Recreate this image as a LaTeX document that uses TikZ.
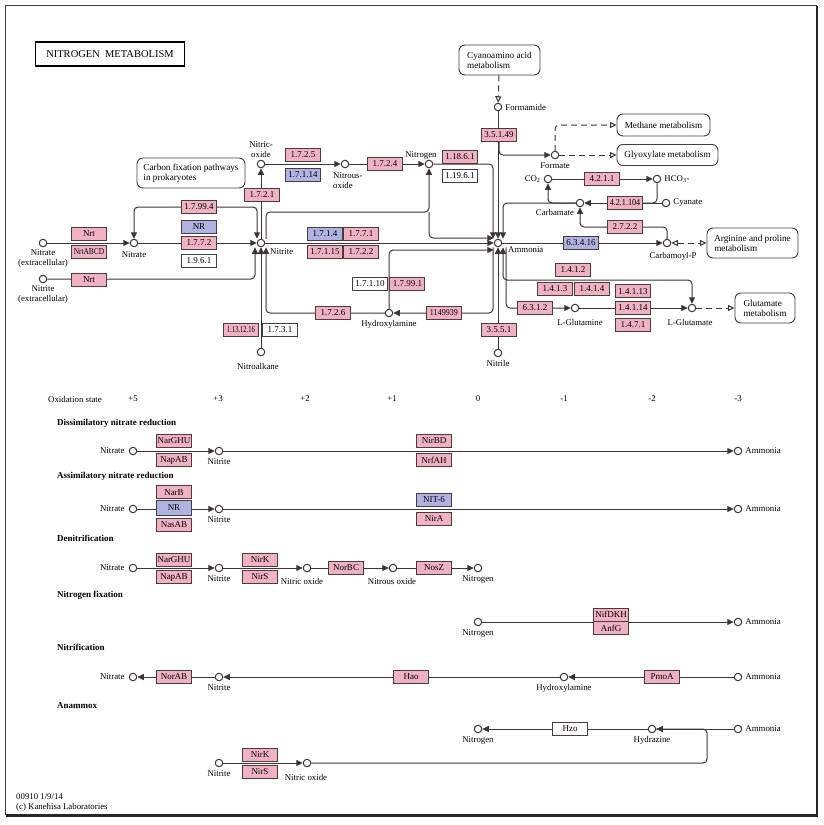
\documentclass[tikz,border=0pt]{standalone}
\usepackage{fontspec}
\setmainfont{Liberation Serif}
\usetikzlibrary{positioning, arrows.meta, backgrounds}

\definecolor{ecpink}{RGB}{240,178,193}
\definecolor{ecblue}{RGB}{176,178,226}
\definecolor{linegray}{RGB}{62,52,52}
\definecolor{boxgray}{RGB}{75,60,60}

\tikzstyle{ec} = [rectangle, draw=boxgray, line width=0.9pt, fill=ecpink, minimum width=35pt, minimum height=13pt, inner sep=0pt, text centered, font=\fontsize{9}{9}\selectfont]
\tikzstyle{ecb} = [ec, fill=ecblue]
\tikzstyle{ecw} = [ec, fill=white]
\tikzstyle{cpd} = [circle, draw=linegray, line width=1pt, fill=white, minimum size=7.5pt, inner sep=0pt]
\tikzstyle{txt} = [inner sep=0pt, align=center, font=\fontsize{8.8}{10}\selectfont]
\tikzstyle{mapbox} = [rectangle, rounded corners=6pt, draw=boxgray, line width=0.9pt, fill=white, align=left, font=\fontsize{9.2}{10}\selectfont]
\tikzstyle{sect} = [anchor=west, inner sep=0pt, font=\fontsize{9}{10}\selectfont\bfseries]
\tikzstyle{arrow} = [draw=linegray, line width=1pt, rounded corners=4pt, -{Triangle[length=6.5pt,width=6pt]}]
\tikzstyle{twoway} = [draw=linegray, line width=1pt, rounded corners=4pt, {Triangle[length=6.5pt,width=6pt]}-{Triangle[length=6.5pt,width=6pt]}]
\tikzstyle{joinline} = [draw=linegray, line width=1pt, rounded corners=4pt]
\tikzstyle{maplink} = [draw=linegray, line width=1pt, rounded corners=4pt, dash pattern=on 6pt off 4pt, -{Triangle[open,length=6.5pt,width=6pt]}]
\tikzstyle{maplink2} = [draw=linegray, line width=1pt, dash pattern=on 6pt off 4pt, {Triangle[open,length=6.5pt,width=6pt]}-{Triangle[open,length=6.5pt,width=6pt]}]

\begin{document}
\begin{tikzpicture}[x=1pt, y=-1pt]
\useasboundingbox (0,0) rectangle (823,825);

% Title and linked pathway maps
\node (title) [draw=black, line width=1.6pt, minimum width=149pt, minimum height=24pt, inner sep=0pt, font=\fontsize{10.5}{12}\selectfont] at (110,54) {NITROGEN\ \ METABOLISM};
\node (carbonMap) [mapbox, minimum width=108pt, minimum height=30pt] at (191,173) {Carbon fixation pathways\\in prokaryotes};
\node (cyanoMap) [mapbox, minimum width=81pt, minimum height=30pt] at (499.5,60) {Cyanoamino acid\\metabolism};
\node (methaneMap) [mapbox, minimum width=93pt, minimum height=22pt] at (663.5,125) {Methane metabolism};
\node (glyoxMap) [mapbox, minimum width=101pt, minimum height=21pt] at (667.5,155) {Glyoxylate metabolism};
\node (arginineMap) [mapbox, minimum width=91pt, minimum height=30pt] at (752.5,243) {Arginine and proline\\metabolism};
\node (glutamateMap) [mapbox, minimum width=60pt, minimum height=30pt] at (765,308) {Glutamate\\metabolism};

% Upper map - compounds
\node (nitrateExt) [cpd] at (43,243) {};
\node (nitriteExt) [cpd] at (43,279) {};
\node (nitrate) [cpd] at (134,243) {};
\node (nitrite) [cpd] at (261,243) {};
\node (nitricOxide) [cpd] at (261,164) {};
\node (nitrousOxide) [cpd] at (345,164) {};
\node (nitrogen) [cpd] at (429,164) {};
\node (ammonia) [cpd] at (498,243) {};
\node (formamide) [cpd] at (498,107) {};
\node (formate) [cpd] at (555,155) {};
\node (co2) [cpd] at (548,179) {};
\node (hco3) [cpd] at (657,179) {};
\node (carbamate) [cpd] at (580,203) {};
\node (cyanate) [cpd] at (666,203) {};
\node (carbamoylP) [cpd] at (667,243) {};
\node (glutamine) [cpd] at (575,308) {};
\node (glutamate) [cpd] at (692,308) {};
\node (hydroxylamine) [cpd] at (389,313) {};
\node (nitroalkane) [cpd] at (261,352) {};
\node (nitrile) [cpd] at (498,353) {};
\coordinate (jn2) at (429,212);
\coordinate (j1412) at (573,280);

% Upper map - compound names
\node (lNitrateExt) [txt, below=2pt of nitrateExt] {Nitrate\\(extracellular)};
\node (lNitriteExt) [txt, below=2pt of nitriteExt] {Nitrite\\(extracellular)};
\node (lNitrate) [txt, below=4pt of nitrate] {Nitrate};
\node (lNitrite) [txt, anchor=west] at (270,252) {Nitrite};
\node (lNitricOxide) [txt, above=2pt of nitricOxide] {Nitric-\\oxide};
\node (lNitrousOxide) [txt, align=left, anchor=north west] at (333,172) {Nitrous-\\oxide};
\node (lNitrogen) [txt] at (421,156) {Nitrogen};
\node (lAmmonia) [txt, anchor=west] at (508,250) {Ammonia};
\node (lFormamide) [txt, right=3pt of formamide] {Formamide};
\node (lFormate) [txt, below=3pt of formate] {Formate};
\node (lCO2) [txt, left=3pt of co2] {CO\textsubscript{2}};
\node (lHCO3) [txt, right=3pt of hco3] {HCO\textsubscript{3}-};
\node (lCarbamate) [txt] at (555,212) {Carbamate};
\node (lCyanate) [txt, right=3pt of cyanate] {Cyanate};
\node (lCarbamoylP) [txt] at (673,256) {Carbamoyl-P};
\node (lGlutamine) [txt] at (580,322) {L-Glutamine};
\node (lGlutamate) [txt] at (690,322) {L-Glutamate};
\node (lHydroxylamine) [txt, below=3pt of hydroxylamine] {Hydroxylamine};
\node (lNitroalkane) [txt] at (258,366) {Nitroalkane};
\node (lNitrile) [txt, below=3pt of nitrile] {Nitrile};

% Upper map - enzymes
\node (nrt1) [ec] at (89,234) {Nrt};
\node (nrtABCD) [ec, below=4pt of nrt1] {\scalebox{0.82}[1]{NrtABCD}};
\node (nrt2) [ec] at (89,280) {Nrt};
\node (e17994) [ec] at (199,207) {1.7.99.4};
\node (nr) [ecb] at (199,227) {NR};
\node (e1772) [ec, below=2pt of nr] {1.7.7.2};
\node (e1961) [ecw] at (199,261) {1.9.6.1};
\node (e1721) [ec] at (262,195) {1.7.2.1};
\node (e1725) [ec] at (303,155) {1.7.2.5};
\node (e17114) [ecb, below=6pt of e1725] {1.7.1.14};
\node (e1724) [ec] at (385,164) {1.7.2.4};
\node (e11861) [ec] at (460,157) {1.18.6.1};
\node (e11961) [ecw, below=5pt of e11861] {1.19.6.1};
\node (e35149) [ec] at (499,135) {3.5.1.49};
\node (e4211) [ec] at (602,179) {4.2.1.1};
\node (e421104) [ec] at (625,203) {\scalebox{0.9}[1]{4.2.1.104}};
\node (e2722) [ec] at (625,227) {2.7.2.2};
\node (e63416) [ecb] at (581,243) {6.3.4.16};
\node (e1714) [ecb] at (325,234) {1.7.1.4};
\node (e1771) [ec, right=0pt of e1714] {1.7.7.1};
\node (e17115) [ec] at (325,252) {1.7.1.15};
\node (e1722) [ec, right=0pt of e17115] {1.7.2.2};
\node (e17110) [ecw] at (370,284) {1.7.1.10};
\node (e17991) [ec, right=1.5pt of e17110] {1.7.99.1};
\node (e1726) [ec] at (333,313) {1.7.2.6};
\node (e1149939) [ec] at (444,313) {\scalebox{0.9}[1]{1149939}};
\node (e3551) [ec] at (499,330) {3.5.5.1};
\node (e1131216) [ec] at (241,330) {\scalebox{0.72}[1]{1.13.12.16}};
\node (e1731) [ecw] at (280,330) {1.7.3.1};
\node (e1412) [ec] at (573,270) {1.4.1.2};
\node (e1413) [ec] at (555,289) {1.4.1.3};
\node (e1414) [ec, right=1pt of e1413] {1.4.1.4};
\node (e6312) [ec] at (535,308) {6.3.1.2};
\node (e14114) [ec] at (633,308) {1.4.1.14};
\node (e14113) [ec, above=3pt of e14114] {1.4.1.13};
\node (e1471) [ec, below=3pt of e14114] {1.4.7.1};

% Lower panel - oxidation state scale
\node (oxState) [txt] at (75,399) {Oxidation state};
\node (ox5) [txt] at (133,399) {+5};
\node (ox3) [txt] at (218,399) {+3};
\node (ox2) [txt] at (305,399) {+2};
\node (ox1) [txt] at (392,399) {+1};
\node (ox0) [txt] at (478,399) {0};
\node (oxm1) [txt] at (564,399) {-1};
\node (oxm2) [txt] at (652,399) {-2};
\node (oxm3) [txt] at (738,399) {-3};

% Lower panel - module titles
\node (sDissim) [sect] at (57,423) {Dissimilatory nitrate reduction};
\node (sAssim) [sect] at (57,476) {Assimilatory nitrate reduction};
\node (sDenit) [sect] at (57,538) {Denitrification};
\node (sFix) [sect] at (57,595) {Nitrogen fixation};
\node (sNitrif) [sect] at (57,647) {Nitrification};
\node (sAnammox) [sect] at (57,706) {Anammox};

% Row 1 - Dissimilatory nitrate reduction
\node (d1Nitrate) [cpd] at (133,451) {};
\node (d1Nitrite) [cpd] at (219,451) {};
\node (d1Ammonia) [cpd] at (738,451) {};
\node (d1lNitrate) [txt, left=4pt of d1Nitrate] {Nitrate};
\node (d1lNitrite) [txt, below=3pt of d1Nitrite] {Nitrite};
\node (d1lAmmonia) [txt, right=3pt of d1Ammonia] {Ammonia};
\node (d1NarGHU) [ec] at (174,441) {NarGHU};
\node (d1NapAB) [ec] at (174,460) {NapAB};
\node (d1NirBD) [ec] at (434,441) {NirBD};
\node (d1NrfAH) [ec] at (434,460) {NrfAH};

% Row 2 - Assimilatory nitrate reduction
\node (a2Nitrate) [cpd] at (133,509) {};
\node (a2Nitrite) [cpd] at (219,509) {};
\node (a2Ammonia) [cpd] at (738,509) {};
\node (a2lNitrate) [txt, left=4pt of a2Nitrate] {Nitrate};
\node (a2lNitrite) [txt, below=3pt of a2Nitrite] {Nitrite};
\node (a2lAmmonia) [txt, right=3pt of a2Ammonia] {Ammonia};
\node (a2NR) [ecb, minimum height=15pt] at (174,508) {NR};
\node (a2NarB) [ec, above=1pt of a2NR] {NarB};
\node (a2NasAB) [ec, below=2pt of a2NR] {NasAB};
\node (a2NIT6) [ecb] at (434,499.5) {NIT-6};
\node (a2NirA) [ec] at (434,519) {NirA};

% Row 3 - Denitrification
\node (n3Nitrate) [cpd] at (133,568) {};
\node (n3Nitrite) [cpd] at (219,568) {};
\node (n3NO) [cpd] at (307,568) {};
\node (n3N2O) [cpd] at (393,568) {};
\node (n3N2) [cpd] at (478,568) {};
\node (n3lNitrate) [txt, left=4pt of n3Nitrate] {Nitrate};
\node (n3lNitrite) [txt, below=3pt of n3Nitrite] {Nitrite};
\node (n3lNO) [txt] at (302,581) {Nitric oxide};
\node (n3lN2O) [txt] at (392,581) {Nitrous oxide};
\node (n3lN2) [txt, below=3pt of n3N2] {Nitrogen};
\node (n3NarGHU) [ec] at (174,560) {NarGHU};
\node (n3NapAB) [ec] at (174,577) {NapAB};
\node (n3NirK) [ec] at (260,560) {NirK};
\node (n3NirS) [ec] at (260,576.5) {NirS};
\node (n3NorBC) [ec] at (346,568) {NorBC};
\node (n3NosZ) [ec] at (434,568) {NosZ};

% Row 4 - Nitrogen fixation
\node (f4N2) [cpd] at (478,622) {};
\node (f4Ammonia) [cpd] at (738,622) {};
\node (f4lN2) [txt, below=3pt of f4N2] {Nitrogen};
\node (f4lAmmonia) [txt, right=3pt of f4Ammonia] {Ammonia};
\node (f4NifDKH) [ec] at (611,614.5) {NifDKH};
\node (f4AnfG) [ec, below=0pt of f4NifDKH] {AnfG};

% Row 5 - Nitrification
\node (t5Nitrate) [cpd] at (133,677) {};
\node (t5Nitrite) [cpd] at (219,677) {};
\node (t5NH2OH) [cpd] at (564,677) {};
\node (t5Ammonia) [cpd] at (738,677) {};
\node (t5lNitrate) [txt, left=4pt of t5Nitrate] {Nitrate};
\node (t5lNitrite) [txt, below=3pt of t5Nitrite] {Nitrite};
\node (t5lNH2OH) [txt, below=3pt of t5NH2OH] {Hydroxylamine};
\node (t5lAmmonia) [txt, right=3pt of t5Ammonia] {Ammonia};
\node (t5NorAB) [ec] at (174,677) {NorAB};
\node (t5Hao) [ec] at (411,677) {Hao};
\node (t5PmoA) [ec] at (662,677) {PmoA};

% Row 6/7 - Anammox
\node (x6N2) [cpd] at (478,729) {};
\node (x6N2H4) [cpd] at (652,729) {};
\node (x6Ammonia) [cpd] at (738,729) {};
\node (x6lN2) [txt, below=3pt of x6N2] {Nitrogen};
\node (x6lN2H4) [txt, below=3pt of x6N2H4] {Hydrazine};
\node (x6lAmmonia) [txt, right=3pt of x6Ammonia] {Ammonia};
\node (x6Hzo) [ecw] at (570,729) {Hzo};
\node (x7Nitrite) [cpd] at (219,763) {};
\node (x7NO) [cpd] at (307,763) {};
\node (x7lNitrite) [txt, below=3pt of x7Nitrite] {Nitrite};
\node (x7lNO) [txt] at (306,777) {Nitric oxide};
\node (x7NirK) [ec] at (260,754.5) {NirK};
\node (x7NirS) [ec] at (260,772) {NirS};
\coordinate (jhz) at (707,763);

% Footer
\node (version) [txt, anchor=west] at (16,797) {00910 1/9/14};
\node (copyright) [txt, anchor=west] at (16,807) {(c) Kanehisa Laboratories};

\begin{scope}[on background layer]
% Frame
\draw[line width=0.6pt, black!75] (5,5) rectangle (816,814);
\draw[line width=2.6pt, black!85] (817,6) -- (817,815.5) -- (6,815.5);

% Upper map - arrows
\draw [arrow] (nitrateExt) -- (nitrate);
\draw [arrow] (nitriteExt) -| ([xshift=-6pt]nitrite.south);
\draw [arrow] (nitrate) -- (nitrite);
\draw [twoway] (nitrate.north) |- (e17994.center) -| ([xshift=-4pt]nitrite.north);
\draw [arrow] (nitrite) -- (nitricOxide);
\draw [arrow] (nitricOxide) -- (nitrousOxide);
\draw [arrow] (nitrousOxide) -- (nitrogen);
\draw [arrow] (nitrogen) -| ([xshift=-5pt]ammonia.north);
\draw [arrow] ([xshift=5pt]nitrite.north) |- (jn2) -- (nitrogen);
\draw [arrow] (jn2) |- ([yshift=5pt]ammonia.west);
\draw [arrow] (nitrite) -- (ammonia);
\draw [arrow] (hydroxylamine) -| ([xshift=5pt]nitrite.south);
\draw [arrow] (nitroalkane) -- (nitrite);
\draw [arrow] (hydroxylamine) |- ([yshift=-7pt]ammonia.west);
\draw [arrow] ([xshift=-5pt]ammonia.south) |- (hydroxylamine);
\draw [arrow] (nitrile) -- (ammonia);
\draw [arrow] (formamide) -- (ammonia);
\draw [arrow] (e35149.south) |- (formate);
\draw [maplink] (cyanoMap) -- (formamide);
\draw [maplink] (formate) |- (methaneMap);
\draw [maplink] (formate) -- (glyoxMap);
\draw [arrow] (co2) -- (hco3);
\draw [arrow] (carbamate) -| (co2);
\draw [arrow] (carbamate) -| ([xshift=5pt]ammonia.north);
\draw [arrow] (cyanate) -- (carbamate);
\draw [joinline] (hco3) |- (e421104.east);
\draw [arrow] (carbamoylP) |- (e2722.center) -| (carbamate);
\draw [arrow] (ammonia) -- (carbamoylP);
\draw [maplink2] (carbamoylP) -- (arginineMap);
\draw [twoway] ([xshift=5pt]ammonia.south) |- (j1412) -| (glutamate);
\draw [arrow] ([xshift=8pt]ammonia.south) |- (glutamine);
\draw [arrow] (glutamine) -- (glutamate);
\draw [maplink] (glutamate) -- (glutamateMap);

% Lower panel - arrows
\draw [arrow] (d1Nitrate) -- (d1Nitrite);
\draw [arrow] (d1Nitrite) -- (d1Ammonia);
\draw [arrow] (a2Nitrate) -- (a2Nitrite);
\draw [arrow] (a2Nitrite) -- (a2Ammonia);
\draw [arrow] (n3Nitrate) -- (n3Nitrite);
\draw [arrow] (n3Nitrite) -- (n3NO);
\draw [arrow] (n3NO) -- (n3N2O);
\draw [arrow] (n3N2O) -- (n3N2);
\draw [arrow] (f4N2) -- (f4Ammonia);
\draw [arrow] (t5Ammonia) -- (t5NH2OH);
\draw [arrow] (t5NH2OH) -- (t5Nitrite);
\draw [arrow] (t5Nitrite) -- (t5Nitrate);
\draw [arrow] (x6Ammonia) -- (x6N2H4);
\draw [arrow] (x6N2H4) -- (x6N2);
\draw [arrow] (x7Nitrite) -- (x7NO);
\draw [joinline] (x7NO) -- (jhz) |- (x6N2H4);
\end{scope}

\end{tikzpicture}
\end{document}
